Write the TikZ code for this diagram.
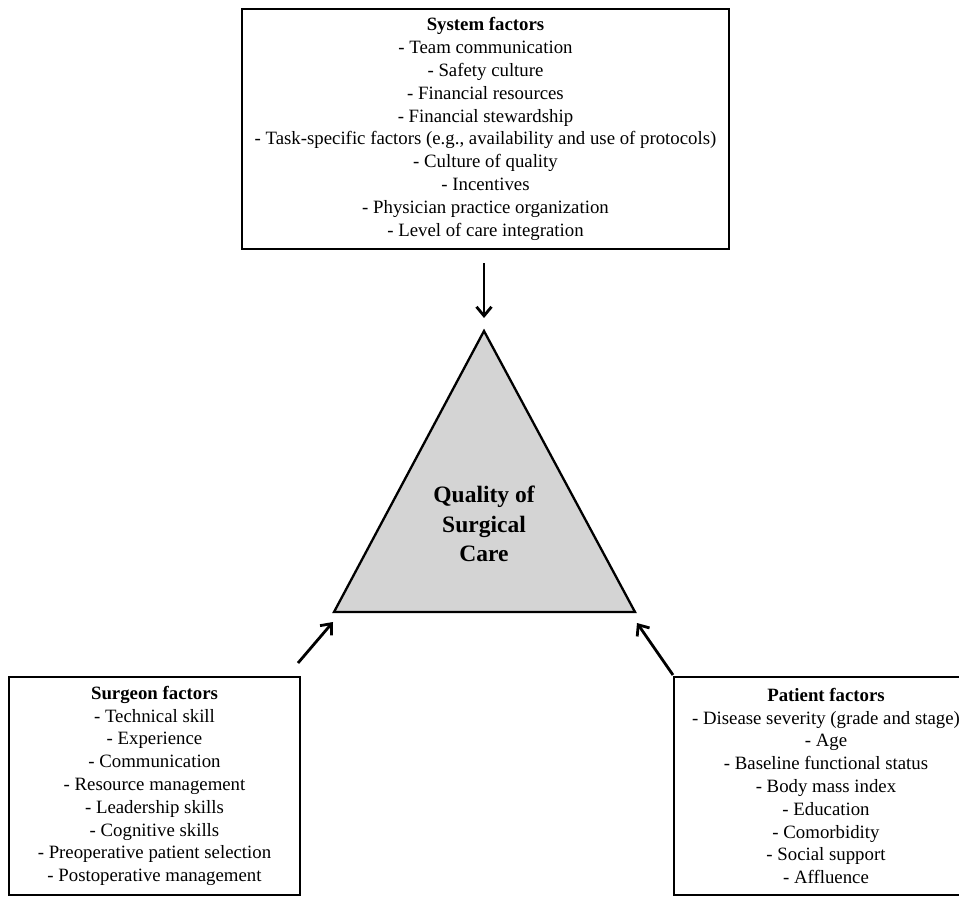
\documentclass[tikz,border=0pt]{standalone}
\usepackage{fontspec}
\setmainfont{Liberation Serif}
\usepackage{xcolor}
\usetikzlibrary{arrows.meta}
\definecolor{triGray}{RGB}{212,212,212}
\tikzset{
    factorbox/.style={draw, line width=2.3pt, inner sep=0pt, align=center,
        minimum height=218pt, font=\fontsize{18.8}{22.8}\selectfont},
    arr/.style={line width=2.8pt, -{Straight Barb[length=9pt,width=15pt]}}}

\begin{document}
\begin{tikzpicture}[x=1pt, y=-1pt]

                    \clip (0,0) rectangle (959,899);

                    \node[factorbox, minimum width=487pt, minimum height=240pt] (system) at (485.5,129) {\textbf{System factors}\\- Team communication\\- Safety culture\\- Financial resources\\- Financial stewardship\\- Task-specific factors (e.g., availability and use of protocols)\\- Culture of quality\\- Incentives\\- Physician practice organization\\- Level of care integration};
                    \node[factorbox, minimum width=291pt] (surgeon) at (154.5,786) {\textbf{Surgeon factors}\\- Technical skill\\- Experience\\- Communication\\- Resource management\\- Leadership skills\\- Cognitive skills\\- Preoperative patient selection\\- Postoperative management};
                    \node[factorbox, minimum width=304pt] (patient) at (826,786) {\textbf{Patient factors}\\- Disease severity (grade and stage)\\- Age\\- Baseline functional status\\- Body mass index\\- Education\\- Comorbidity\\- Social support\\- Affluence};

                    \coordinate (apex) at (484,331);
                    \coordinate (baseL) at (334,612);
                    \coordinate (baseR) at (635,612);
                    \draw[line width=2.3pt, fill=triGray, line join=miter] (apex) -- (baseL) -- (baseR) -- cycle;
                    \node[align=center, font=\bfseries\fontsize{23.5}{29.5}\selectfont] (quality) at (484,524) {Quality of\\Surgical\\Care};

                    \coordinate (sTail) at (298,663);
                    \coordinate (sHead) at (333,622);
                    \coordinate (pTail) at (673,675);
                    \coordinate (pHead) at (637,623);

                    \draw[arr, shorten <=13pt, shorten >=13pt] (system.south -| apex) -- (apex);
                    \draw[arr] (sTail) -- (sHead);
                    \draw[arr] (pTail) -- (pHead);

                \end{tikzpicture}
\end{document}
